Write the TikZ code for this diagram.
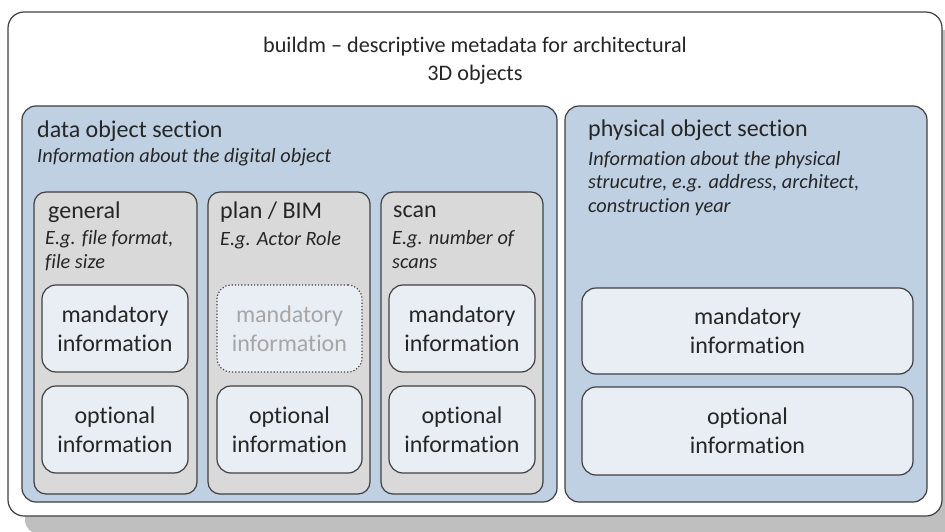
\documentclass[tikz,border=0pt]{standalone}
\usepackage{fontspec}
\setmainfont{Carlito}[Ligatures=NoCommon]
\definecolor{bd}{HTML}{404040}
\definecolor{secfill}{HTML}{BFD0E3}
\definecolor{colfill}{HTML}{D9D9D9}
\definecolor{boxfill}{HTML}{E9EEF5}
\definecolor{shadowc}{HTML}{BFBFBF}
\definecolor{txt}{HTML}{262626}
\definecolor{faint}{HTML}{A6A6A6}
\begin{document}
\begin{tikzpicture}[x=1pt,y=-1pt,
  frame/.style={draw=bd, line width=1.2pt, rounded corners=14pt, inner sep=0pt},
  secbox/.style={frame, fill=secfill, minimum height=396pt},
  colbox/.style={frame, fill=colfill, rounded corners=12pt, minimum width=162pt, minimum height=302pt},
  infobox/.style={frame, fill=boxfill, text=txt, align=center, minimum height=87pt,
     font=\fontsize{24}{29}\selectfont},
  dottedbox/.style={infobox, dotted, text=faint},
  heading/.style={anchor=base west, inner sep=0pt, text=txt, font=\fontsize{24}{29}\selectfont},
  note/.style={anchor=base west, inner sep=0pt, text=txt, align=left, font=\fontsize{20.3}{23.5}\selectfont\itshape}
]
\useasboundingbox (0,0) rectangle (945,532);
\path[clip] (0,0) rectangle (945,532);
% shadow and outer frame
\node[frame, draw=none, fill=shadowc, minimum width=934pt, minimum height=504pt] (shadow) at (492,282) {};
\node[frame, fill=white, rounded corners=16pt, minimum width=934pt, minimum height=504pt] (outer) at (475,264) {};
\node[anchor=base, inner sep=0pt, text=txt, align=center, font=\fontsize{22.2}{28}\selectfont] (title) at (475,81)
  {buildm -- descriptive metadata for architectural\\3D objects};
% sections
\node[secbox, minimum width=535pt] (data) at (289.5,304) {};
\node[secbox, minimum width=362pt] (phys) at (746,304) {};
\node[heading] (datah) at (37,138) {data object section};
\node[note] (datan) at (37,162) {Information about the digital object};
\node[heading] (physh) at (588,137) {physical object section};
\node[note] (physn) at (588,212) {Information about the physical\\strucutre, e.g. address, architect,\\construction year};
% columns
\node[colbox, minimum width=163pt] (general) at (115.5,343) {};
\node[colbox] (plan) at (289,343) {};
\node[colbox] (scan) at (462,343) {};
\node[heading] (genh) at (48,218) {general};
\node[note] (genn) at (45,268) {E.g. file format,\\file size};
\node[heading] (planh) at (220,218) {plan / BIM};
\node[note] (plann) at (220,245) {E.g. Actor Role};
\node[heading] (scanh) at (393,217) {scan};
\node[note] (scann) at (392,268) {E.g. number of\\scans};
% information boxes
\node[infobox, minimum width=146pt] (genm) at (115,328.5) {mandatory\\information};
\node[infobox, minimum width=146pt] (geno) at (115,429.5) {optional\\information};
\node[dottedbox, minimum width=145pt] (planm) at (289.5,328.5) {mandatory\\information};
\node[infobox, minimum width=145pt] (plano) at (289.5,429.5) {optional\\information};
\node[infobox, minimum width=146pt] (scanm) at (462,328.5) {mandatory\\information};
\node[infobox, minimum width=146pt] (scano) at (462,429.5) {optional\\information};
\node[infobox, minimum width=331pt, minimum height=86pt] (physm) at (747.5,331) {mandatory\\information};
\node[infobox, minimum width=331pt, minimum height=88pt] (physo) at (747.5,431) {optional\\information};
\end{tikzpicture}
\end{document}
